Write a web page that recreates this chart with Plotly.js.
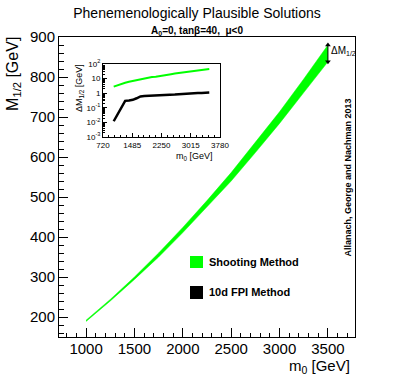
<!DOCTYPE html>
<html>
<head>
<meta charset="utf-8">
<script src="https://cdn.plot.ly/plotly-3.0.1.min.js"></script>
<style>
  html, body { margin: 0; padding: 0; background: #fff; }
  #plot { width: 394px; height: 375px; }
</style>
</head>
<body>
<div id="plot"></div>
<script>
// band edges of the shooting method (main panel)
const m0 = [1000, 1250, 1500, 1750, 2000, 2250, 2500, 2750, 3000, 3250, 3500];
const upperM = [192, 244, 300, 360, 424, 491, 561, 636, 713, 795, 880];
const lowerM = [189, 240, 294, 350, 411, 475, 540, 611, 684, 761, 838];

// inset: Delta M_1/2 vs m0
const m0Inset = [1000, 1100, 1200, 1300, 1400, 1500, 1600, 1700, 1800, 1900, 2000, 2100, 2200,
                 2300, 2400, 2500, 2600, 2700, 2800, 2900, 3000, 3100, 3200, 3300, 3400, 3500];
const dmShooting = [2.8, 3.5, 4.3, 5.2, 6.0, 6.8, 7.6, 9.0, 10.5, 12, 13, 13.5, 14.5,
                    16.5, 18.5, 20, 22, 24, 26, 28, 30, 33, 36, 39, 42, 45];
const dmFpi = [0.012, 0.035, 0.105, 0.3, 0.32, 0.35, 0.45, 0.6, 0.65, 0.66, 0.68, 0.7, 0.72,
               0.75, 0.77, 0.78, 0.8, 0.85, 0.9, 0.95, 0.98, 1.0, 1.02, 1.05, 1.08, 1.12];

const insetXTicks = [720, 1485, 2250, 3015, 3780];
const insetYTicks = [0.001, 0.01, 0.1, 1, 10, 100];
const insetYText = ['10<sup>-3</sup>', '10<sup>-2</sup>', '10<sup>-1</sup>', '1', '10', '10<sup>2</sup>'];

const FONT = 'Liberation Sans, Arial, sans-serif';
const GREEN = '#00ff00';

// minor ticks for the log inset axis
const logMinor = [];
for (let e = -3; e < 2; e++) {
    for (let k = 2; k <= 9; k++) logMinor.push(k * Math.pow(10, e));
}

const last = m0.length - 1;

const traces = [
    { x: m0, y: lowerM, mode: 'lines', line: { color: GREEN, width: 0.5 }, hoverinfo: 'skip' },
    { x: m0, y: upperM, mode: 'lines', fill: 'tonexty', fillcolor: GREEN,
      line: { color: GREEN, width: 0.5 } },
    // Delta M arrow at the end of the band
    { x: [m0[last], m0[last]], y: [lowerM[last], upperM[last]], mode: 'lines+markers',
      line: { color: 'black', width: 1 },
      marker: { symbol: ['triangle-down', 'triangle-up'], size: 5, color: 'black' } },
    // inset
    { x: m0Inset, y: dmShooting, xaxis: 'x2', yaxis: 'y2', mode: 'lines',
      line: { color: GREEN, width: 2 } },
    { x: m0Inset, y: dmFpi, xaxis: 'x2', yaxis: 'y2', mode: 'lines',
      line: { color: 'black', width: 2.5 } }
];

const axisBase = {
    showgrid: false, zeroline: false, showline: true, mirror: true,
    linecolor: 'black', linewidth: 1, ticks: 'inside', tickcolor: 'black'
};

function note(text, x, y, size, extra) {
    return Object.assign({
        text: text, xref: 'paper', yref: 'paper', x: x, y: y,
        xanchor: 'center', yanchor: 'middle', showarrow: false,
        font: { family: FONT, size: size, color: 'black' }
    }, extra || {});
}

const layout = {
    width: 394, height: 375,
    margin: { l: 59, r: 39, t: 37, b: 38 },
    paper_bgcolor: 'white', plot_bgcolor: 'white',
    showlegend: false,
    font: { family: FONT, color: 'black' },
    title: {
        text: 'Phenemenologically Plausible Solutions',
        font: { family: FONT, size: 14, color: 'black' },
        x: 0.5, xref: 'container', xanchor: 'center',
        y: 1 - 13 / 375, yref: 'container', yanchor: 'middle'
    },
    xaxis: {
        ...axisBase, range: [720, 3780], tick0: 0, dtick: 500, ticklen: 9,
        tickfont: { family: FONT, size: 15 }, ticklabelstandoff: -2,
        minor: { ticks: 'inside', dtick: 100, tick0: 0, ticklen: 4.5, tickcolor: 'black' }
    },
    yaxis: {
        ...axisBase, range: [150, 900], tick0: 0, dtick: 100, ticklen: 9,
        tickfont: { family: FONT, size: 15 },
        minor: { ticks: 'inside', dtick: 20, tick0: 0, ticklen: 4.5, tickcolor: 'black' }
    },
    xaxis2: {
        ...axisBase, anchor: 'y2', domain: [0.1486, 0.5439], range: [720, 3780],
        tickvals: insetXTicks, ticklen: 4, tickfont: { family: FONT, size: 8 },
        ticklabelstandoff: 0,
        minor: { ticks: 'inside', dtick: 153, tick0: 720, ticklen: 2, tickcolor: 'black' }
    },
    yaxis2: {
        ...axisBase, anchor: 'x2', domain: [0.6667, 0.91], type: 'log', range: [-3, 2],
        tickvals: insetYTicks, ticktext: insetYText, ticklen: 4,
        tickfont: { family: FONT, size: 8 },
        minor: { ticks: 'inside', tickvals: logMinor, ticklen: 2, tickcolor: 'black' }
    },
    shapes: [
        { type: 'rect', xref: 'paper', yref: 'paper', x0: 0.4426, x1: 0.4865, y0: 0.23, y1: 0.27,
          fillcolor: GREEN, line: { width: 0 } },
        { type: 'rect', xref: 'paper', yref: 'paper', x0: 0.4426, x1: 0.4865, y0: 0.1267, y1: 0.17,
          fillcolor: 'black', line: { width: 0 } }
    ],
    annotations: [
        note('<b>A<sub>0</sub>=0, tanβ=40,  μ&lt;0</b>', 0.466, 1.02, 10),
        note('m<sub>0</sub> [GeV]', 0.99, -0.099, 15, { xanchor: 'right' }),
        note('M<sub>1/2</sub> [GeV]', -0.152, 1.007, 16, { yanchor: 'top', textangle: -90 }),
        note('ΔM<sub>1/2</sub>', 3510, 866, 10, { xref: 'x', yref: 'y', xanchor: 'left' }),
        note('<b>Shooting Method</b>', 0.5, 0.25, 11, { xanchor: 'left' }),
        note('<b>10d FPI Method</b>', 0.5, 0.15, 11, { xanchor: 'left' }),
        note('<b>Allanach, George and Nachman 2013</b>', 0.9747, 0.53, 9, { textangle: -90 }),
        note('m<sub>0</sub> [GeV]', 0.527, 0.603, 9, { xanchor: 'right' }),
        note('ΔM<sub>1/2</sub> [GeV]', 0.071, 0.9167, 9, { yanchor: 'top', textangle: -90 })
    ]
};

Plotly.newPlot('plot', traces, layout, { displayModeBar: false, staticPlot: true });
</script>
</body>
</html>
